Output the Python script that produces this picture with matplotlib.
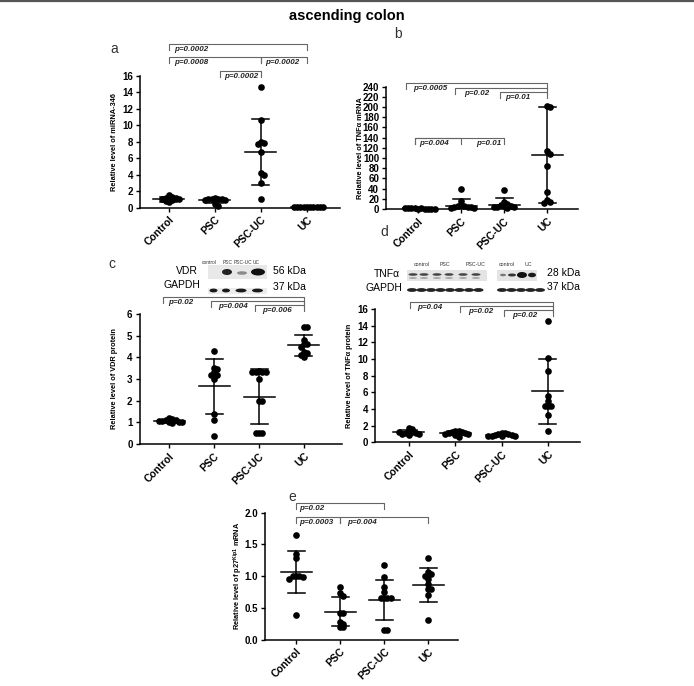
import numpy as np
import matplotlib
matplotlib.use("Agg")
import matplotlib.pyplot as plt
from matplotlib import transforms
from matplotlib.patches import Rectangle, Ellipse

plt.rcParams['font.family'] = ['Liberation Sans', 'DejaVu Sans']
plt.rcParams['mathtext.fontset'] = 'custom'
plt.rcParams['mathtext.bf'] = 'Liberation Sans:bold'
plt.rcParams['mathtext.rm'] = 'Liberation Sans:bold'

groups = ['Control', 'PSC', 'PSC-UC', 'UC']

# panel a: miRNA-346
a_vals = [[1.5, 1.3, 1.2, 1.2, 1.1, 1.0, 0.9, 0.8, 0.7, 1.0],
          [1.15, 1.1, 1.05, 1.0, 1.0, 0.95, 0.5, 0.2, 0.9],
          [14.6, 10.6, 8.0, 7.9, 7.7, 6.7, 4.2, 4.0, 3.0, 1.0],
          [0.05, 0.04, 0.06, 0.05, 0.03, 0.05, 0.04, 0.06, 0.05, 0.04]]
a_mean = [1.0, 0.88, 6.75, 0.05]
a_sd = [0.25, 0.3, 3.95, 0.02]
a_p = ['p=0.0002', 'p=0.0008', 'p=0.0002', 'p=0.0002']

# panel b: TNFa mRNA
b_vals = [[0.5, 1.0, 1.5, 0.8, 1.2, 0.3, 1.0, 0.7, 1.3, 0.9],
          [40, 15, 8, 6, 5, 4, 3, 3, 2, 2],
          [37, 13, 9, 8, 6, 5, 4, 3, 3, 2],
          [203, 200, 113, 107, 84, 34, 17, 13, 12]]
b_mean = [1.0, 6.5, 7.8, 106]
b_sd = [0.4, 12.5, 13.0, 94]
b_p = ['p=0.0005', 'p=0.02', 'p=0.01', 'p=0.004', 'p=0.01']

# panel c: VDR protein
c_vals = [[1.2, 1.15, 1.1, 1.1, 1.05, 1.0, 1.0, 0.95, 1.05, 1.0],
          [4.28, 3.5, 3.45, 3.32, 3.2, 3.2, 3.0, 1.4, 1.1, 0.35],
          [3.35, 3.33, 3.33, 3.33, 3.33, 3.0, 2.0, 2.0, 0.5, 0.5, 0.5],
          [5.42, 5.42, 4.78, 4.6, 4.6, 4.5, 4.25, 4.2, 4.1, 4.0]]
c_mean = [1.05, 2.66, 2.18, 4.55]
c_sd = [0.08, 1.27, 1.26, 0.5]
c_p = ['p=0.02', 'p=0.004', 'p=0.006']

# panel d: TNFa protein
d_vals = [[1.7, 1.6, 1.3, 1.2, 1.1, 1.1, 1.0, 1.0, 0.9, 1.2],
          [1.3, 1.3, 1.25, 1.2, 1.1, 1.1, 1.05, 1.0, 0.9, 0.6],
          [1.1, 1.1, 1.0, 0.95, 0.9, 0.85, 0.8, 0.8, 0.75, 0.7],
          [14.6, 10.1, 8.5, 5.5, 4.9, 4.3, 4.3, 4.3, 3.25, 1.3]]
d_mean = [1.2, 1.1, 0.9, 6.1]
d_sd = [0.25, 0.2, 0.13, 3.9]
d_p = ['p=0.04', 'p=0.02', 'p=0.02']

# panel e: p27Kip1 mRNA
e_vals = [[1.65, 1.35, 1.29, 1.0, 1.0, 1.0, 0.98, 0.95, 0.39],
          [0.83, 0.73, 0.68, 0.42, 0.42, 0.28, 0.25, 0.19, 0.19],
          [1.17, 0.99, 0.83, 0.75, 0.65, 0.65, 0.65, 0.66, 0.15, 0.15],
          [1.28, 1.07, 1.04, 0.95, 0.88, 0.8, 0.8, 0.7, 0.3, 1.0]]
e_mean = [1.06, 0.44, 0.62, 0.86]
e_sd = [0.33, 0.23, 0.32, 0.27]
e_p = ['p=0.02', 'p=0.0003', 'p=0.004']

W, H = 694, 686
fig = plt.figure(figsize=(W / 100, H / 100), dpi=100)
ov = fig.add_axes([0, 0, 1, 1], zorder=5)
ov.set_xlim(0, W)
ov.set_ylim(H, 0)
ov.axis('off')


def make_ax(left, right, top, bottom, xlim, ylim):
    ax = fig.add_axes([left / W, 1 - bottom / H, (right - left) / W, (bottom - top) / H])
    ax.set_xlim(*xlim)
    ax.set_ylim(*ylim)
    ax.ppx = (right - left) / (xlim[1] - xlim[0])
    ax.ppy = (bottom - top) / (ylim[1] - ylim[0])
    ax.left = left
    ax.right = right
    return ax


def swarm(vals, ppy, d=3.3):
    placed, offs = [], []
    cands = [0] + [s * j for j in range(1, 30) for s in (1, -1)]
    for v in vals:
        y = v * ppy
        for c in cands:
            x = c * d
            if all((x - px) ** 2 + (y - py) ** 2 >= (d * 0.999) ** 2 for px, py in placed):
                break
        placed.append((x, y))
        offs.append(x)
    return np.array(offs)


def dotplot(ax, vals_list, means, sds, yticks, ylabel, ylab_x):
    for i, vals in enumerate(vals_list):
        offs = swarm(vals, ax.ppy) / ax.ppx
        ax.plot(i + offs, vals, 'o', color='black', ms=4.8, mew=0, clip_on=False, zorder=3)
        m, s = means[i], sds[i]
        hw, cw = 15.5 / ax.ppx, 8.5 / ax.ppx
        ax.plot([i - hw, i + hw], [m, m], color='black', lw=1.1, zorder=4)
        ax.plot([i, i], [m - s, m + s], color='black', lw=1.1, zorder=4)
        ax.plot([i - cw, i + cw], [m + s, m + s], color='black', lw=1.1, zorder=4)
        ax.plot([i - cw, i + cw], [m - s, m - s], color='black', lw=1.1, zorder=4)
    for sp in ['top', 'right']:
        ax.spines[sp].set_visible(False)
    for sp in ['left', 'bottom']:
        ax.spines[sp].set_linewidth(1.1)
    ax.set_yticks(yticks)
    ax.set_xticks(range(len(groups)))
    ax.set_xticklabels(groups, rotation=45, ha='right', rotation_mode='anchor',
                       fontsize=7.5, fontweight='bold')
    ax.tick_params(axis='both', length=3, width=1.0, pad=2)
    ax.tick_params(axis='y', labelsize=7)
    for t in ax.get_yticklabels():
        t.set_fontweight('bold')
    ax.set_ylabel(ylabel, fontsize=5.3, fontweight='bold')
    ax.yaxis.set_label_coords((ylab_x - ax.left) / (ax.right - ax.left), 0.5)


def bracket(ax, x0, x1, ypx, label, tdx, drop=6):
    tr = transforms.blended_transform_factory(ax.transData, ov.transData)
    ov.plot([x0, x0, x1, x1], [ypx + drop, ypx, ypx, ypx + drop], transform=tr,
            color='#666666', lw=0.8, clip_on=False)
    ov.text(x0 + tdx / ax.ppx, ypx + 5.5, label, transform=tr, fontsize=5.8,
            fontweight='bold', style='italic', va='center', ha='left', color='#222222')


# title and top frame line
ov.plot([0, W], [0.8, 0.8], color='#555555', lw=1.6)
ov.text(347, 16, 'ascending colon', fontsize=10.5, fontweight='bold', ha='center', va='center')

# ---- a ----
ax_a = make_ax(140, 340, 75.7, 207.7, (-0.63, 3.72), (0, 16))
dotplot(ax_a, a_vals, a_mean, a_sd, range(0, 17, 2), 'Relative level of miRNA-346', 118)
bracket(ax_a, 0, 3, 44, a_p[0], 5)
bracket(ax_a, 0, 2, 56.7, a_p[1], 5)
bracket(ax_a, 2, 3, 56.7, a_p[2], 4)
bracket(ax_a, 1.1, 2, 71, a_p[3], 5)
ov.text(114, 49, 'a', fontsize=10, ha='center', va='center', color='#333333')

# ---- b ----
ax_b = make_ax(386, 578, 86.7, 209, (-0.744, 3.72), (0, 240))
dotplot(ax_b, b_vals, b_mean, b_sd, range(0, 241, 20), 'Relative level of TNF\u03b1 mRNA', 364)
bracket(ax_b, -0.27, 3, 83.3, b_p[0], 7)
bracket(ax_b, 0.86, 3, 87.7, b_p[1], 9)
bracket(ax_b, 1.9, 3, 91.7, b_p[2], 5)
bracket(ax_b, -0.08, 1, 137.7, b_p[3], 4.5)
bracket(ax_b, -0.08, 2, 137.7, b_p[4], 62)
ov.text(398, 34, 'b', fontsize=10, ha='center', va='center', color='#333333')

# ---- c ----
ax_c = make_ax(139.5, 341.7, 314, 444, (-0.656, 3.838), (0, 6))
dotplot(ax_c, c_vals, c_mean, c_sd, range(0, 7), 'Relative level of VDR protein', 118)
bracket(ax_c, -0.14, 3, 296.7, c_p[0], 5)
bracket(ax_c, 0.94, 3, 300.7, c_p[1], 7)
bracket(ax_c, 1.92, 3, 305, c_p[2], 7)
ov.text(112, 264, 'c', fontsize=10, ha='center', va='center', color='#333333')

# VDR blot
for lab, x in zip(['control', 'PSC', 'PSC-UC', 'UC'], [202, 223, 234, 253]):
    ov.text(x, 262, lab, fontsize=3.5, ha='left', va='center', color='#333333')
ov.text(198, 270.5, 'VDR', fontsize=7.5, ha='right', va='center')
ov.text(200, 285.5, 'GAPDH', fontsize=7.5, ha='right', va='center')
ov.text(273, 270.5, '56 kDa', fontsize=7.5, ha='left', va='center')
ov.text(273, 286.5, '37 kDa', fontsize=7.5, ha='left', va='center')
ov.add_patch(Rectangle((208, 264.5), 59, 14, color='#e8e8e8', lw=0))
ov.add_patch(Ellipse((227, 272), 10, 6, color='#222222', lw=0))
ov.add_patch(Ellipse((242, 273), 10, 3.5, color='#8a8a8a', lw=0))
ov.add_patch(Ellipse((258, 272), 14, 7, color='#111111', lw=0))
ov.add_patch(Rectangle((208, 287.5), 59, 6, color='#ececec', lw=0))
for x, w in zip([213.5, 226, 241, 257.5], [8, 8, 11, 11]):
    ov.add_patch(Ellipse((x, 290.5), w, 3.8, color='#1a1a1a', lw=0))

# ---- d ----
ax_d = make_ax(375, 580, 309, 442.3, (-0.734, 3.693), (0, 16))
dotplot(ax_d, d_vals, d_mean, d_sd, range(0, 17, 2), 'Relative level of TNF\u03b1 protein', 353)
bracket(ax_d, 0.03, 3.1, 301.7, d_p[0], 7)
bracket(ax_d, 1.1, 3.1, 305.7, d_p[1], 8)
bracket(ax_d, 2.06, 3.1, 310, d_p[2], 8)
ov.text(384, 232, 'd', fontsize=10, ha='center', va='center', color='#333333')

# TNFa blot
for lab, x in zip(['control', 'PSC', 'PSC-UC', 'control', 'UC'], [422, 445, 476, 507, 528]):
    ov.text(x, 264, lab, fontsize=3.8, ha='center', va='center', color='#333333')
ov.text(400, 274, 'TNF\u03b1', fontsize=7.5, ha='right', va='center')
ov.text(402, 288, 'GAPDH', fontsize=7.5, ha='right', va='center')
ov.text(547, 273, '28 kDa', fontsize=7.5, ha='left', va='center')
ov.text(547, 287, '37 kDa', fontsize=7.5, ha='left', va='center')
ov.add_patch(Rectangle((407, 270), 80, 11, color='#e4e4e4', lw=0))
ov.add_patch(Rectangle((497, 270), 40, 11, color='#e4e4e4', lw=0))
for x in [413, 424, 437, 449, 463, 476]:
    ov.add_patch(Ellipse((x, 274.5), 9, 2.6, color='#444444', lw=0))
    ov.add_patch(Ellipse((x, 278), 8, 1.6, color='#9a9a9a', lw=0))
ov.add_patch(Ellipse((503, 275), 6, 2.5, color='#777777', lw=0))
ov.add_patch(Ellipse((512, 275), 8, 3, color='#333333', lw=0))
ov.add_patch(Ellipse((522, 275), 10, 6, color='#111111', lw=0))
ov.add_patch(Ellipse((532, 275), 8, 4.5, color='#1a1a1a', lw=0))
for x in np.arange(412, 488, 9.5):
    ov.add_patch(Ellipse((x, 290), 10, 3.8, color='#222222', lw=0))
for x in np.arange(502, 541, 9.5):
    ov.add_patch(Ellipse((x, 290), 10, 3.8, color='#222222', lw=0))

# ---- e ----
ax_e = make_ax(265, 458, 512.7, 639.5, (-0.705, 3.68), (0, 2.0))
dotplot(ax_e, e_vals, e_mean, e_sd, np.arange(0, 2.01, 0.5),
        r'Relative level of p27$^{\mathbf{Kip1}}$ mRNA', 245)
ax_e.set_yticklabels(['0.0', '0.5', '1.0', '1.5', '2.0'], fontweight='bold', fontsize=7)
bracket(ax_e, 0, 2, 502.7, e_p[0], 3.5)
bracket(ax_e, 0, 1, 517.3, e_p[1], 3.5)
bracket(ax_e, 1, 3, 517.3, e_p[2], 7)
ov.text(292, 497, 'e', fontsize=10, ha='center', va='center', color='#333333')

fig.savefig('out.png', dpi=100)
